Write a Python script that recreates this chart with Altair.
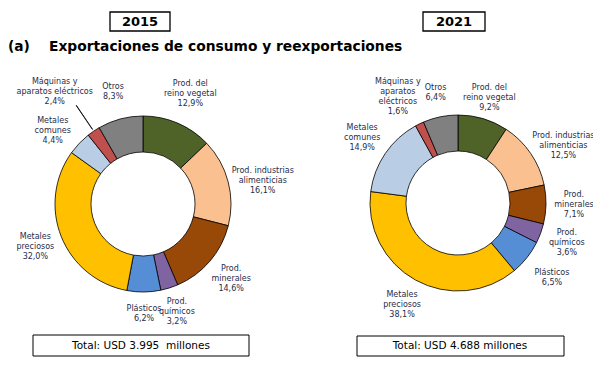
import altair as alt
import pandas as pd

categories = ["Prod. del reino vegetal", "Prod. industrias alimenticias", "Prod. minerales",
              "Prod. químicos", "Plásticos", "Metales preciosos", "Metales comunes",
              "Máquinas y aparatos eléctricos", "Otros"]
values_2015 = [12.9, 16.1, 14.6, 3.2, 6.2, 32.0, 4.4, 2.4, 8.3]
values_2021 = [9.2, 12.5, 7.1, 3.6, 6.5, 38.1, 14.9, 1.6, 6.4]
labels_2015 = ["Prod. del\nreino vegetal", "Prod. industrias\nalimenticias", "Prod.\nminerales",
               "Prod.\nquímicos", "Plásticos", "Metales\npreciosos", "Metales\ncomunes",
               "Máquinas y\naparatos eléctricos", "Otros"]
labels_2021 = ["Prod. del\nreino vegetal", "Prod. industrias\nalimenticias", "Prod.\nminerales",
               "Prod.\nquímicos", "Plásticos", "Metales\npreciosos", "Metales\ncomunes",
               "Máquinas y\naparatos\neléctricos", "Otros"]
colors = ["#4F6228", "#FAC090", "#984807", "#8064A2", "#558ED5", "#FFC000", "#B9CDE5",
          "#C0504D", "#808080"]
years = ["2015", "2021"]
totals = ["Total: USD 3.995\u00a0 millones", "Total: USD 4.688 millones"]
title_text = "Exportaciones de consumo y reexportaciones"

FONT = "DejaVu Sans"
LABEL_COLOR = "#1F2D4A"
LINE_H = 10
# label placement: distance from the donut centre (px) and angular nudge (fraction of turn)
LABEL_R = 116
LABEL_R_OVERRIDES = {("2015", 7): 143, ("2015", 4): 110, ("2015", 3): 113,
                     ("2015", 0): 120, ("2015", 1): 122,
                     ("2021", 7): 122, ("2021", 8): 112, ("2021", 0): 110,
                     ("2021", 1): 120, ("2021", 4): 120}
LABEL_T_OVERRIDES = {("2015", 7): -0.011, ("2015", 6): -0.013, ("2015", 1): 0.01,
                     ("2021", 7): -0.010, ("2021", 1): 0.016}


def pct(v):
    return f"{v:.1f}".replace(".", ",") + "%"


rows = []
for year, vals, labs in [("2015", values_2015, labels_2015), ("2021", values_2021, labels_2021)]:
    for i, (c, v, l) in enumerate(zip(categories, vals, labs)):
        text = l + "\n" + pct(v)
        rows.append({"year": year, "cat": c, "value": v, "ord": i,
                     "label": text, "nlines": text.count("\n") + 1})
df = pd.DataFrame(rows)

theta_scale = alt.Scale(domain=[0, 1])
color_scale = alt.Scale(domain=categories, range=colors)


def override_expr(default, table):
    e = str(default)
    for (y, o), r in table.items():
        e = f"(datum.year == '{y}' && datum.ord == {o}) ? {r} : ({e})"
    return e


lr_expr = override_expr(LABEL_R, LABEL_R_OVERRIDES)
dt_expr = override_expr(0, LABEL_T_OVERRIDES)


def donut(year, cx, cy):
    base = (alt.Chart(df)
            .transform_filter(alt.datum.year == year)
            .transform_joinaggregate(total="sum(value)")
            .transform_window(cum="sum(value)", sort=[alt.SortField("ord")], frame=[None, 0])
            .transform_calculate(t0="(datum.cum - datum.value) / datum.total",
                                 t1="datum.cum / datum.total",
                                 tm="(datum.cum - datum.value / 2) / datum.total",
                                 tm2="(datum.cum - datum.value / 2) / datum.total + 0.0004",
                                 lr=lr_expr, dt=dt_expr)
            .transform_calculate(tl="datum.tm + datum.dt"))
    arc = base.mark_arc(radius=88, radius2=52, stroke="black", strokeWidth=0.8).encode(
        theta=alt.Theta("t0:Q", scale=theta_scale),
        theta2="t1:Q",
        color=alt.Color("cat:N", scale=color_scale, legend=None),
        x=alt.value(cx), y=alt.value(cy))
    layers = [arc]
    for n in (2, 3, 4):
        txt = base.transform_filter(alt.datum.nlines == n).mark_text(
            lineBreak="\n", font=FONT, fontSize=8, lineHeight=LINE_H,
            color=LABEL_COLOR, align="center", baseline="middle",
            dy=-(n - 1) * LINE_H / 2).encode(
            theta=alt.Theta("tl:Q", scale=theta_scale),
            radius=alt.Radius("lr:Q", scale=None),
            text="label:N",
            x=alt.value(cx), y=alt.value(cy))
        layers.append(txt)
    if year == "2015":
        leader = base.transform_filter(alt.datum.ord == 7).mark_arc(
            radius=119, radius2=90, fill="black", stroke="black", strokeWidth=0.7).encode(
            theta=alt.Theta("tm:Q", scale=theta_scale),
            theta2="tm2:Q",
            x=alt.value(cx), y=alt.value(cy))
        layers.append(leader)
    return layers


one = alt.Chart(pd.DataFrame({"k": [0]}))


def box(x0, x1, y0, y1, sw):
    return one.mark_rect(fill="white", stroke="black", strokeWidth=sw).encode(
        x=alt.value(x0), x2=alt.value(x1), y=alt.value(y0), y2=alt.value(y1))


def label(text, x, y, size, bold=False, align="center", color="black"):
    return one.mark_text(text=text, font=FONT, fontSize=size,
                         fontWeight="bold" if bold else "normal",
                         align=align, baseline="middle", color=color).encode(
        x=alt.value(x), y=alt.value(y))


layers = []
layers += [box(102, 162, 4, 23, 1.3), label(years[0], 132, 14, 13, bold=True)]
layers += [box(415, 477, 4, 23, 1.3), label(years[1], 446, 14, 13, bold=True)]
layers += [label("(a)", 0, 39, 13.8, bold=True, align="left"),
           label(title_text, 41, 39, 13.8, bold=True, align="left")]
layers += donut("2015", 135, 196)
layers += donut("2021", 450, 195)
layers += [box(25, 241, 327, 348, 1), label(totals[0], 133, 338, 10.5)]
layers += [box(349, 556, 328, 348, 1), label(totals[1], 452, 338, 10.5)]

chart = alt.layer(*layers).properties(
    width=585, height=353, padding=0, autosize="none"
).configure_view(stroke=None)

chart.save("out.html", embed_options={"renderer": "svg", "actions": False})
